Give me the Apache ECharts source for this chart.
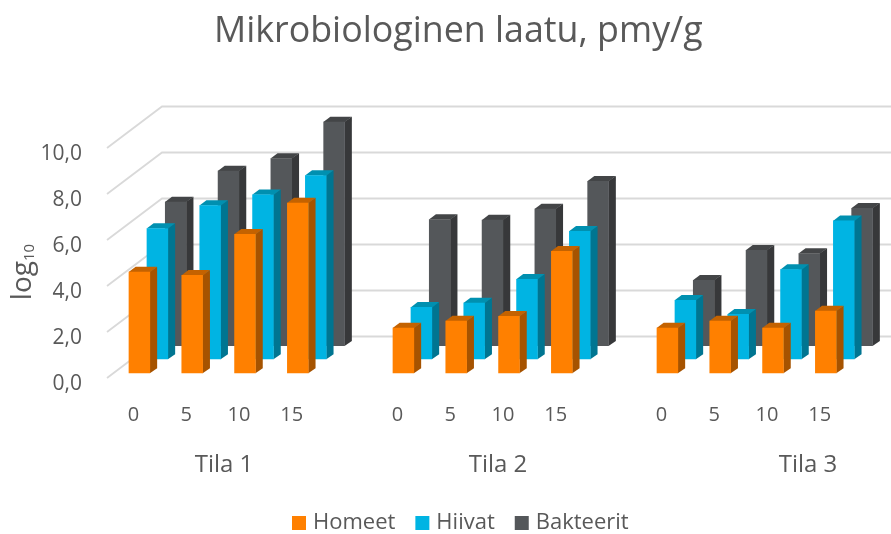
<!DOCTYPE html>
<html><head><meta charset="utf-8">
<style>html,body{margin:0;padding:0;background:#fff}#c{width:891px;height:534px}</style>
<script src="https://cdn.jsdelivr.net/npm/echarts@6/dist/echarts.min.js"></script>
</head><body><div id="c"></div>
<script>
const titleText = 'Mikrobiologinen laatu, pmy/g';
const days = ['0','5','10','15'];
const farms = ['Tila 1','Tila 2','Tila 3'];
const homeet    = [[4.42,4.27,6.06,7.42],[1.98,2.29,2.49,5.32],[1.98,2.29,1.98,2.72]];
const hiivat    = [[5.70,6.70,7.17,8.00],[2.27,2.46,3.49,5.58],[2.58,1.97,3.91,6.03]];
const bakteerit = [[6.27,7.62,8.16,9.75],[5.51,5.48,5.96,7.17],[2.87,4.17,4.03,6.00]];
const ticks = [0,2,4,6,8,10];

const FONT = '"Open Sans"';
const TXT = '#595959';
const BAR_W = 21.5, BAR_DX = 7, BAR_DY = 5;
const WALL_DX = 55, WALL_DY = 41.5;

// x axis: four days per farm, one empty slot between farms
const cats = [];
farms.forEach((f,i)=>{ days.forEach(d=>cats.push(d)); if(i<farms.length-1) cats.push(''); });
const flat = a => { const out=[]; a.forEach((g,i)=>{ g.forEach((v,j)=>out.push([i*5+j, v])); }); return out; };

function bar3d(depthX, depthY, front, side, top){
  return function(params, api){
    const p0 = api.coord([api.value(0), 0]);
    const p1 = api.coord([api.value(0), api.value(1)]);
    const l = p0[0]-BAR_W/2+depthX, r = l+BAR_W;
    const b = p0[1]-depthY, t = p1[1]-depthY;
    return {type:'group', children:[
      {type:'polygon', shape:{points:[[r-0.3,t],[r+BAR_DX,t-BAR_DY],[r+BAR_DX,b-BAR_DY],[r-0.3,b]]}, style:{fill:side}},
      {type:'polygon', shape:{points:[[l,t+0.3],[l+BAR_DX,t-BAR_DY],[r+BAR_DX,t-BAR_DY],[r,t+0.3]]}, style:{fill:top}},
      {type:'rect', shape:{x:l,y:t,width:BAR_W,height:b-t}, style:{fill:front}}
    ]};
  };
}
function wall(params, api){
  const p = api.coord([0, api.value(0)]);
  const left = p[0]-api.size([1,0])[0]/2;
  return {type:'polyline', shape:{points:[[left,p[1]],[left+WALL_DX,p[1]-WALL_DY],[900,p[1]-WALL_DY]]},
    style:{stroke:'#d9d9d9', lineWidth:1.8, fill:null}};
}
const chart = echarts.init(document.getElementById('c'));
const mkSeries = (name,data,z,dx,dy,c)=>({
  name, type:'custom', data:flat(data), z, itemStyle:{color:c[0]},
  encode:{x:0,y:1}, renderItem:bar3d(dx,dy,c[0],c[1],c[2]), animation:false
});
chart.setOption({
  animation:false,
  title:{text:titleText,left:209,top:9,
    textStyle:{fontFamily:FONT,fontSize:35.8,fontWeight:400,color:TXT}},
  legend:{top:507,left:287,itemWidth:14,itemHeight:14,itemGap:20,icon:'rect',
    data:['Homeet','Hiivat','Bakteerit'],
    textStyle:{fontFamily:FONT,fontSize:22,color:TXT,padding:[0,0,0,2]}},
  grid:{left:107,top:148,width:739.2,height:230,containLabel:false,outerBoundsMode:'none'},
  xAxis:{type:'category',data:cats,axisLine:{show:false},axisTick:{show:false},splitLine:{show:false},
    axisLabel:{interval:0,margin:27,fontFamily:FONT,fontSize:20,color:TXT}},
  yAxis:{type:'value',min:0,max:10,interval:2,axisLine:{show:false},axisTick:{show:false},splitLine:{show:false},
    name:'{a|log}{b|10}',nameLocation:'middle',nameGap:70,nameRotate:90,nameMoveOverlap:false,
    nameTextStyle:{padding:[0,18,0,0],rich:{a:{fontFamily:FONT,fontSize:28,color:TXT},b:{fontFamily:FONT,fontSize:15,color:TXT,verticalAlign:'bottom',padding:[12,0,0,0]}}},
    axisLabel:{margin:25,fontFamily:FONT,fontSize:21,color:TXT,verticalAlign:'top',lineHeight:13,formatter:v=>v.toFixed(1).replace('.',',')}},
  graphic:farms.map((f,i)=>({type:'text',x:[224,498,808][i],y:465,
    style:{text:f,fontFamily:FONT,fontSize:24,fill:TXT,align:'center',verticalAlign:'middle'}})),
  series:[
    {type:'custom',name:'wall',data:ticks.map(v=>[v]),encode:{y:0},renderItem:wall,z:1,silent:true},
    mkSeries('Bakteerit',bakteerit,2,42.3,32.1,['#54575a','#37383a','#434547']),
    mkSeries('Hiivat',hiivat,3,24,18.7,['#00b4e3','#007591','#0090b0']),
    mkSeries('Homeet',homeet,4,6,4.7,['#ff8000','#a65300','#c46200'])
  ]
});
</script></body></html>
